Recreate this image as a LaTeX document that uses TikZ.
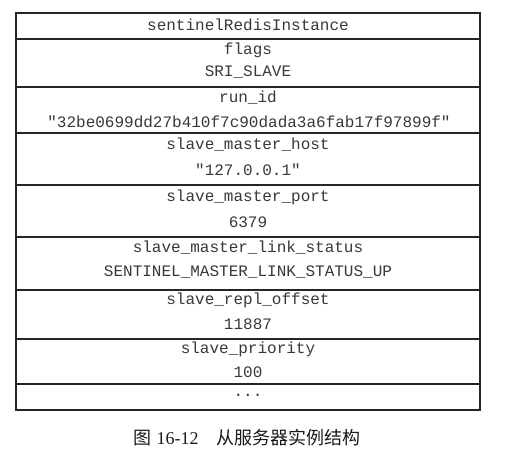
\documentclass[tikz,border=0pt]{standalone}
\usepackage{fontspec}
\setmonofont{Liberation Mono}
\newfontfamily\cjk{Noto Sans CJK SC}
\newfontfamily\capserif{Liberation Serif}
\begin{document}
\begin{tikzpicture}[x=1pt,y=-1pt,
  cell/.style={draw=black!85,line width=1.3pt},
  txt/.style={font=\fontsize{16}{16}\selectfont\ttfamily,text=black!78,inner sep=0pt,anchor=center},
  captxt/.style={font=\fontsize{18}{18}\selectfont,text=black!90,inner sep=0pt}]
\useasboundingbox (0,0) rectangle (507,457);
% rows
\draw[cell] (16,13) rectangle (480,39);
\draw[cell] (16,39) rectangle (480,87);
\draw[cell] (16,87) rectangle (480,133);
\draw[cell] (16,133) rectangle (480,185);
\draw[cell] (16,185) rectangle (480,237);
\draw[cell] (16,237) rectangle (480,290);
\draw[cell] (16,290) rectangle (480,339);
\draw[cell] (16,339) rectangle (480,384);
\draw[cell] (16,384) rectangle (480,410);
% texts
\node[txt] (title) at (248,25) {sentinelRedisInstance};
\node[txt] (flags) at (248,50) {flags};
\node[txt] (flagsv) at (248,72) {SRI\_SLAVE};
\node[txt] (runid) at (248,98) {run\_id};
\node[txt] (runidv) at (249,122) {"32be0699dd27b410f7c90dada3a6fab17f97899f"};
\node[txt] (host) at (248,145) {slave\_master\_host};
\node[txt] (hostv) at (248,170) {"127.0.0.1"};
\node[txt] (port) at (248,197) {slave\_master\_port};
\node[txt] (portv) at (248,222) {6379};
\node[txt] (link) at (248,248) {slave\_master\_link\_status};
\node[txt] (linkv) at (248,272) {SENTINEL\_MASTER\_LINK\_STATUS\_UP};
\node[txt] (off) at (248,300) {slave\_repl\_offset};
\node[txt] (offv) at (248,324) {11887};
\node[txt] (prio) at (248,349) {slave\_priority};
\node[txt] (priov) at (248,372) {100};
\node[txt] (more) at (248,395) {...};
% caption
\node[captxt] (caption) at (247,438) {{\cjk 图} {\capserif 16-12}\hspace{1em}{\cjk 从服务器实例结构}};
\end{tikzpicture}
\end{document}
